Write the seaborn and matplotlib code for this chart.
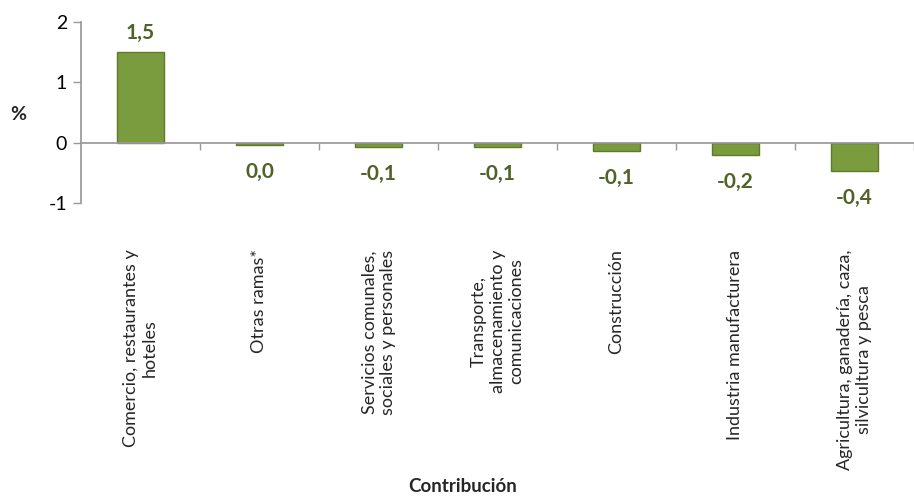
import matplotlib
matplotlib.use("Agg")
import matplotlib.pyplot as plt
import seaborn as sns
import pandas as pd
import numpy as np

categories = [
    "Comercio, restaurantes y\nhoteles",
    "Otras ramas*",
    "Servicios comunales,\nsociales y personales",
    "Transporte,\nalmacenamiento y\ncomunicaciones",
    "Construcción",
    "Industria manufacturera",
    "Agricultura, ganadería, caza,\nsilvicultura y pesca",
]
values = [1.5, -0.04, -0.07, -0.07, -0.14, -0.2, -0.47]
value_labels = ["1,5", "0,0", "-0,1", "-0,1", "-0,1", "-0,2", "-0,4"]
yticks = [-1, 0, 1, 2]

sns.set_theme(style="white")
plt.rcParams["font.family"] = ["Lato", "DejaVu Sans"]

df = pd.DataFrame({"cat": categories, "val": values})

fig = plt.figure(figsize=(9.14, 5.0), dpi=100)
ax = fig.add_axes([81 / 914, 1 - 203 / 500, 1 - 81 / 914, 181 / 500])

sns.barplot(data=df, x="cat", y="val", order=categories, color="#7B9B3F",
            width=0.39, edgecolor="#5E7A2A", linewidth=1.0, saturation=1, ax=ax)

ax.set_ylim(-1, 2)
ax.set_xlim(-0.5, 6.36)
ax.set_yticks(yticks)
ax.set_yticklabels([str(v) for v in yticks], fontsize=14, color="black")
ax.set_xlabel("")
ax.set_ylabel("")

for s in ["top", "right"]:
    ax.spines[s].set_visible(False)
ax.spines["left"].set_color("#999999")
ax.spines["bottom"].set_color("#999999")
ax.spines["bottom"].set_position(("data", 0))

ax.tick_params(axis="y", which="major", direction="out", length=6, width=1,
               color="#999999", left=True, pad=4)
ax.set_xticks(np.arange(len(categories)))
ax.set_xticklabels(categories, rotation=90, fontsize=13, ha="center", va="top",
                   multialignment="center", linespacing=1.2)
ax.tick_params(axis="x", which="major", length=0, pad=77)
ax.set_xticks(np.arange(len(categories)) + 0.5, minor=True)
ax.tick_params(axis="x", which="minor", direction="out", length=5, width=1,
               color="#999999", bottom=True)

for i, (v, lab) in enumerate(zip(values, value_labels)):
    off = 14 if v > 0 else -19.5
    ax.annotate(lab, (i, v), xytext=(0, off), textcoords="offset points",
                ha="center", va="center", fontsize=15, fontweight="bold",
                color="#4F6228")

fig.text(18 / 914, 1 - 115 / 500, "%", fontsize=14, fontweight="bold",
         ha="center", va="center")
fig.text(463 / 914, 1 - 487 / 500, "Contribución", fontsize=13.5,
         fontweight="bold", ha="center", va="center")

fig.savefig("out.png", dpi=100)
